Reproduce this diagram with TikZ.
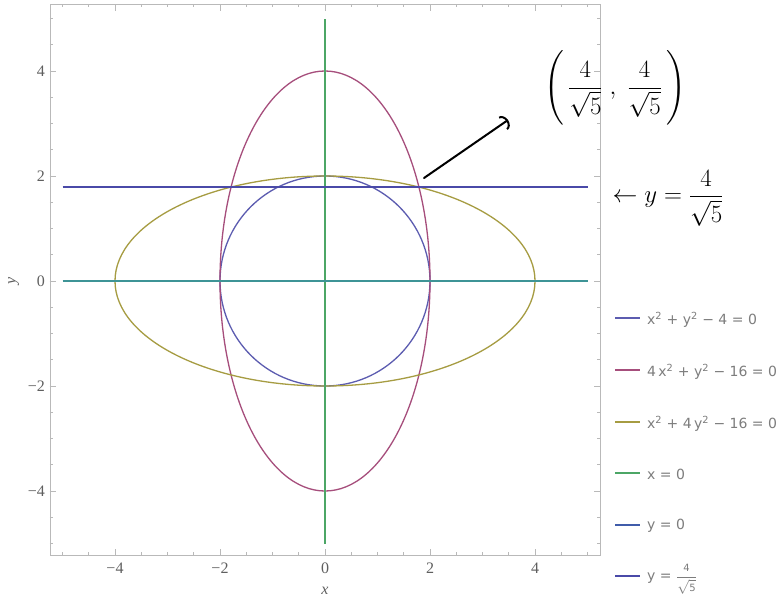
\documentclass[tikz,border=0pt]{standalone}
\usepackage{amsmath}
\usepackage{fontspec}
\newfontfamily\legfont{DejaVu Sans}
\newfontfamily\tickfont{Liberation Serif}
\usetikzlibrary{arrows.meta}
\definecolor{framegray}{RGB}{185,185,185}
\definecolor{labgray}{RGB}{95,95,95}
\definecolor{leggray}{RGB}{125,125,125}
\definecolor{circc}{RGB}{92,92,176}
\definecolor{ellac}{RGB}{166,78,124}
\definecolor{ellbc}{RGB}{166,156,66}
\definecolor{xzc}{RGB}{76,166,102}
\definecolor{yzc}{RGB}{62,148,150}
\definecolor{yzleg}{RGB}{64,92,170}
\definecolor{ylc}{RGB}{74,74,168}
\newcommand{\myfr}{\dfrac{4}{\sqrt{5}}}
\newcommand{\legdig}[1]{\text{\legfont\fontsize{10}{10}\selectfont #1}}
\tikzset{
  curve/.style={line width=1.3pt},
  framestyle/.style={draw=framegray, line width=0.8pt},
  tickstyle/.style={draw=framegray, line width=0.6pt},
  ticklab/.style={text=labgray, font=\tickfont\fontsize{16}{18}\selectfont, inner sep=0pt},
  legline/.style={line width=2.6pt},
  legtext/.style={text=leggray, font=\legfont\fontsize{14}{16}\selectfont, anchor=west, inner sep=0pt},
  handtext/.style={text=black, inner sep=0pt},
  handarrow/.style={line width=2pt, line cap=round, -{Arc Barb[length=6pt,width=16pt,line width=2pt]}}
}
\begin{document}
\begin{tikzpicture}[x=1pt,y=-1pt]
\useasboundingbox (0,0) rectangle (780,600);
\fill[white] (0,0) rectangle (780,600);
\begin{scope}[shift={(325,281)}, x=52.5pt, y=52.5pt]
  % frame
  \draw[framestyle] (-5.24,-5.22) rectangle (5.24,5.26);
  % minor ticks
  \foreach \t in {-5,-4.5,...,5} {
    \draw[tickstyle] (\t,-5.22) -- ++(0,0.05);
    \draw[tickstyle] (\t,5.26) -- ++(0,-0.05);
    \draw[tickstyle] (-5.24,\t) -- ++(0.05,0);
    \draw[tickstyle] (5.24,\t) -- ++(-0.05,0);
  }
  \foreach \t in {-4,-2,0,2,4} {
    \draw[tickstyle] (\t,-5.22) -- ++(0,0.11);
    \draw[tickstyle] (\t,5.26) -- ++(0,-0.11);
    \draw[tickstyle] (-5.24,\t) -- ++(0.11,0);
    \draw[tickstyle] (5.24,\t) -- ++(-0.11,0);
  }
  \foreach \t/\l in {-4/−4,-2/−2,0/0,2/2,4/4} {
    \node[ticklab] (xt\t) at (\t,-5.47) {\l};
    \node[ticklab, anchor=east] (yt\t) at (-5.33,\t) {\l};
  }
  \node[ticklab] (xlab) at (0,-5.9) {\itshape x};
  \node[ticklab, rotate=90] (ylab) at (-5.93,0) {\itshape y};
  % curves
  \draw[curve, circc] (0,0) circle (2);
  \draw[curve, ellac] (0,0) ellipse (2 and 4);
  \draw[curve, ellbc] (0,0) ellipse (4 and 2);
  \draw[curve, xzc] (0,-5) -- (0,5);
  \draw[curve, yzc] (-5,0) -- (5,0);
  \draw[curve, ylc] (-5,1.78885) -- (5,1.78885);
\end{scope}
% legend
\foreach \i/\c/\yy in {1/circc/318, 2/ellac/370, 3/ellbc/422, 4/xzc/473, 5/yzleg/525, 6/ylc/576} {
  \draw[legline, \c] (615,\yy) -- (640,\yy);
}
\node[legtext] (l1) at (647,320) {x\textsuperscript{2} + y\textsuperscript{2} − 4 = 0};
\node[legtext] (l2) at (647,372) {4\,x\textsuperscript{2} + y\textsuperscript{2} − 16 = 0};
\node[legtext] (l3) at (647,424) {x\textsuperscript{2} + 4\,y\textsuperscript{2} − 16 = 0};
\node[legtext] (l4) at (647,474) {x = 0};
\node[legtext] (l5) at (647,526) {y = 0};
\node[legtext] (l6) at (647,579) {y = $\dfrac{\legdig{4}}{\sqrt{\legdig{5}}}$};
% handwritten annotations
\node[handtext, font=\fontsize{32}{38}\selectfont] (ptlab) at (615,88) {$\Bigg(\,\myfr\;,\;\myfr\,\Bigg)$};
\node[handtext, font=\fontsize{34}{40}\selectfont] (ylab2) at (668,198) {$\leftarrow y=\myfr$};
\coordinate (astart) at (424,178);
\coordinate (aend) at (508,120);
\draw[handarrow] (astart) -- (aend);
\end{tikzpicture}
\end{document}
